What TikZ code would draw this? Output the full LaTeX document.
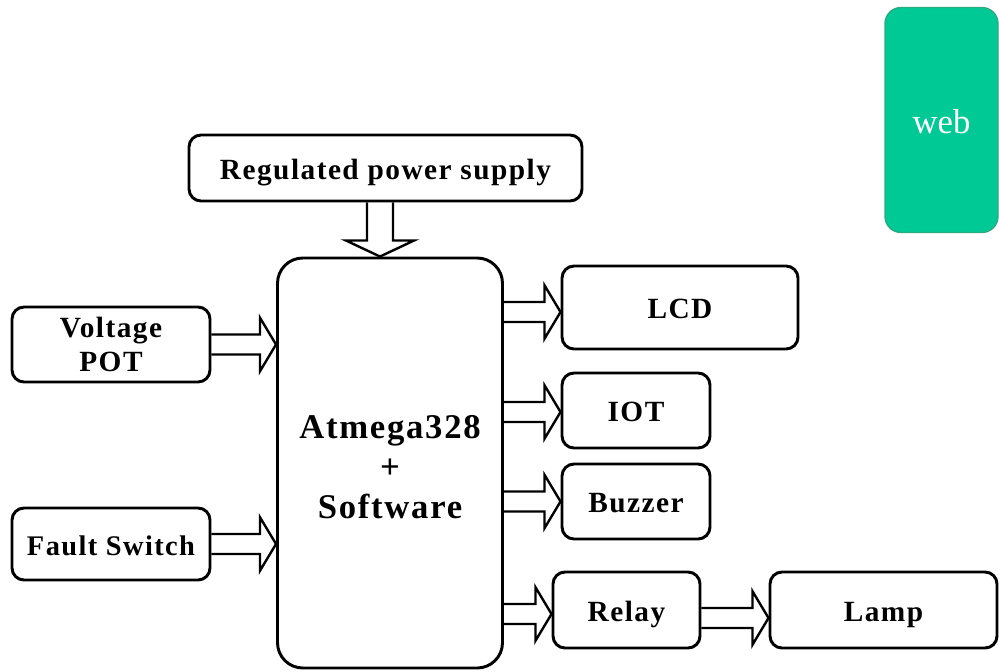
\documentclass[tikz,border=0pt]{standalone}
\usepackage{fontspec}
\setmainfont{Liberation Serif}
\newfontfamily\lbl[LetterSpace=5]{Liberation Serif}
\usetikzlibrary{calc}
\definecolor{webgreen}{RGB}{0,201,150}
\definecolor{webedge}{RGB}{40,170,130}
\begin{document}
\begin{tikzpicture}[x=0.75pt,y=-0.75pt,
  blk/.style={draw=black,line width=2.2pt,rounded corners=9pt,fill=white,
    align=center,font=\lbl\bfseries\fontsize{22}{24}\selectfont,inner sep=0pt},
  onel/.style={text height=17pt,text depth=0pt},
  harrow/.style={line width=1.8pt,to path={let \p1=(\tikztostart),\p2=(\tikztotarget) in
    (\x1,\y2+7.5pt) -- (\x2-12pt,\y2+7.5pt) -- (\x2-12pt,\y2+20pt) -- (\x2,\y2)
    -- (\x2-12pt,\y2-20pt) -- (\x2-12pt,\y2-7.5pt) -- (\x1,\y2-7.5pt)}},
  varrow/.style={line width=1.8pt,to path={let \p1=(\tikztostart),\p2=(\tikztotarget) in
    (\x2-9.75pt,\y1) -- (\x2-9.75pt,\y2+12pt) -- (\x2-25.5pt,\y2+12pt) -- (\x2,\y2)
    -- (\x2+25.5pt,\y2+12pt) -- (\x2+9.75pt,\y2+12pt) -- (\x2+9.75pt,\y1)}}]
\useasboundingbox (0,0) rectangle (999,671);

\node[blk,onel,minimum width=393*0.75pt,minimum height=66*0.75pt] (reg) at (385.5,168) {Regulated power supply};
\node[blk,rounded corners=19pt,minimum width=225*0.75pt,minimum height=410*0.75pt,
  font=\lbl\bfseries\fontsize{26}{30}\selectfont] (main) at (390,463)
  {\rule{0pt}{23pt}Atmega328\\+\\Software};
\node[blk,minimum width=198*0.75pt,minimum height=75*0.75pt,
  font=\lbl\bfseries\fontsize{22}{25}\selectfont] (vpot) at (111,344.5) {Voltage\\POT};
\node[blk,onel,minimum width=198*0.75pt,minimum height=72*0.75pt,
  font=\lbl\bfseries\fontsize{21.3}{24}\selectfont] (fault) at (111,544) {Fault Switch};
\node[blk,onel,minimum width=236*0.75pt,minimum height=83*0.75pt] (lcd) at (680,307.5) {LCD};
\node[blk,onel,minimum width=148*0.75pt,minimum height=75*0.75pt] (iot) at (636,410.5) {IOT};
\node[blk,onel,minimum width=148*0.75pt,minimum height=75*0.75pt] (buzzer) at (636,501.5) {Buzzer};
\node[blk,onel,minimum width=147*0.75pt,minimum height=76*0.75pt] (relay) at (626.5,610) {Relay};
\node[blk,onel,minimum width=227*0.75pt,minimum height=76*0.75pt] (lamp) at (883.5,610) {Lamp};
\node[draw=webedge,line width=1pt,fill=webgreen,rounded corners=12pt,
  minimum width=113*0.75pt,minimum height=225*0.75pt,text=white,
  font=\fontsize{26}{28}\selectfont] (web) at (941.5,120) {\rule{0pt}{20pt}web};

\coordinate (pwr) at (380,258);
\draw[varrow] (reg.south) to (main.north -| pwr);
\draw[harrow] (vpot.east) to (main.west |- vpot.east);
\draw[harrow] (fault.east) to (main.west |- fault.east);
\draw[harrow] ([yshift=-4.5*0.75pt]main.east |- lcd.west) to ([yshift=-4.5*0.75pt]lcd.west);
\draw[harrow] ([yshift=-1.5*0.75pt]main.east |- iot.west) to ([yshift=-1.5*0.75pt]iot.west);
\draw[harrow] (main.east |- buzzer.west) to (buzzer.west);
\draw[harrow] ([yshift=-4*0.75pt]main.east |- relay.west) to ([yshift=-4*0.75pt]relay.west);
\draw[harrow] ([yshift=-8*0.75pt]relay.east) to ([yshift=-8*0.75pt]lamp.west);
\end{tikzpicture}
\end{document}
